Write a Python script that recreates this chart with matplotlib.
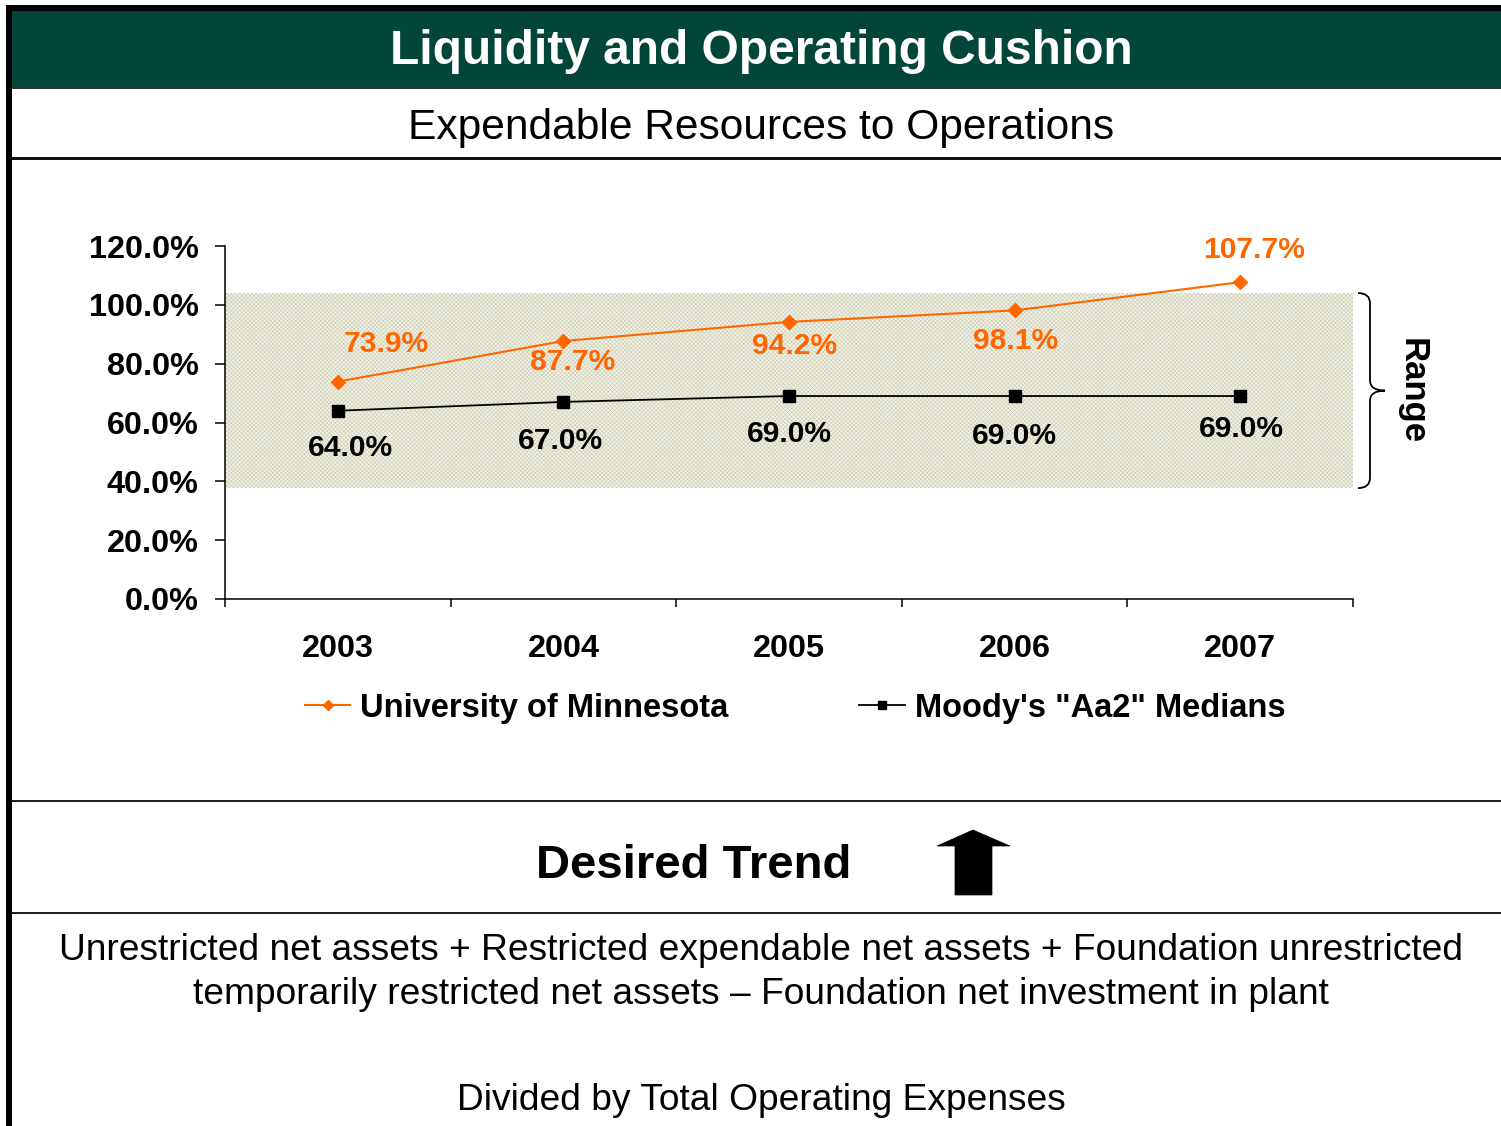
import matplotlib
matplotlib.use("Agg")
import matplotlib.pyplot as plt
from matplotlib.patches import Rectangle, Polygon, PathPatch
from matplotlib.path import Path
from matplotlib.lines import Line2D
import matplotlib.transforms as mtransforms

plt.rcParams['font.family'] = ['Liberation Sans', 'DejaVu Sans']
plt.rcParams['hatch.linewidth'] = 0.45
plt.rcParams['hatch.color'] = '#CDCDB2'

# ---------------- data ----------------
years = ["2003", "2004", "2005", "2006", "2007"]
umn_values = [73.9, 87.7, 94.2, 98.1, 107.7]
moodys_values = [64.0, 67.0, 69.0, 69.0, 69.0]
range_low = 37.7
range_high = 104.0
y_ticks = [0, 20, 40, 60, 80, 100, 120]
series_names = ["University of Minnesota", "Moody's \"Aa2\" Medians"]
title_text = "Liquidity and Operating Cushion"
subtitle_text = "Expendable Resources to Operations"
trend_text = "Desired Trend"
formula_lines = [
    "Unrestricted net assets + Restricted expendable net assets + Foundation unrestricted",
    "temporarily restricted net assets \u2013 Foundation net investment in plant",
]
divisor_text = "Divided by Total Operating Expenses"

# label offsets (points) for annotations
umn_offsets = [(35, 27), (7, -15), (4, -17), (1, -22), (10, 23)]
moodys_offsets = [(9, -27), (-2, -28), (0, -27), (0, -29), (1, -24)]

W, H = 1501, 1126
fig = plt.figure(figsize=(W / 100, H / 100), dpi=100)
fig.patch.set_facecolor('white')

def fx(x):
    return x / W

def fy(y):
    return 1 - y / H

GREEN = '#02463A'
ORANGE = '#FF6600'

# ---------------- frame ----------------
fig.patches.append(Rectangle((fx(12), fy(87)), fx(W - 12), 76 / H,
                             transform=fig.transFigure, facecolor=GREEN,
                             edgecolor='none', zorder=0))
fig.patches.append(Rectangle((fx(6), fy(11)), fx(W - 6), 6 / H,
                             transform=fig.transFigure, facecolor='black',
                             edgecolor='none', zorder=1))
fig.patches.append(Rectangle((fx(6), fy(H)), fx(6), fy(5) - fy(H),
                             transform=fig.transFigure, facecolor='black',
                             edgecolor='none', zorder=1))
for yy, lw, col in [(88, 2.0, '#333333'), (158, 3.0, '#111111'),
                    (801, 2.0, '#222222'), (913, 2.0, '#222222')]:
    fig.lines.append(Line2D([fx(12), 1], [fy(yy), fy(yy)], transform=fig.transFigure,
                            color=col, linewidth=lw * 0.72, zorder=1))

fig.text(fx(761), fy(51), title_text, color='white', fontsize=34.5,
         fontweight='bold', ha='center', va='center')
fig.text(fx(761), fy(128), subtitle_text, color='black', fontsize=30.6,
         ha='center', va='center')
fig.text(fx(694), fy(866), trend_text, color='black', fontsize=34,
         fontweight='bold', ha='center', va='center')
arrow_px = [(973, 830), (1010, 846), (992, 846), (992, 895), (955, 895),
            (955, 846), (937, 846)]
fig.patches.append(Polygon([(fx(px), fy(py)) for px, py in arrow_px], closed=True,
                           transform=fig.transFigure, facecolor='black',
                           edgecolor='black', linewidth=0.5))
fig.text(fx(761), fy(950), formula_lines[0], fontsize=26.7, ha='center', va='center')
fig.text(fx(761), fy(995), formula_lines[1], fontsize=26.7, ha='center', va='center')
fig.text(fx(761), fy(1101), divisor_text, fontsize=26.7, ha='center', va='center')

# ---------------- chart ----------------
ax = fig.add_axes([fx(225), fy(599), fx(1353) - fx(225), fy(246) - fy(599)])
ax.set_facecolor('none')
x = list(range(len(years)))
ax.set_xlim(-0.5, len(years) - 0.5)
ax.set_ylim(0, 120)

ax.axhspan(range_low, range_high, facecolor='#F3F3EA', edgecolor='#CDCDB2',
           hatch='x' * 8, linewidth=0, zorder=0)

ax.plot(x, umn_values, color=ORANGE, linewidth=1.5, marker='D', markersize=7,
        markerfacecolor=ORANGE, markeredgecolor=ORANGE, zorder=3,
        label=series_names[0], clip_on=False)
ax.plot(x, moodys_values, color='black', linewidth=1.3, marker='s', markersize=8,
        markerfacecolor='black', markeredgecolor='black', zorder=3,
        label=series_names[1], clip_on=False)

for xi, v, off in zip(x, umn_values, umn_offsets):
    ax.annotate(f"{v:.1f}%", (xi, v), xytext=off, textcoords='offset points',
                ha='center', va='center', color=ORANGE, fontsize=21.6,
                fontweight='bold', annotation_clip=False)
for xi, v, off in zip(x, moodys_values, moodys_offsets):
    ax.annotate(f"{v:.1f}%", (xi, v), xytext=off, textcoords='offset points',
                ha='center', va='center', color='black', fontsize=21.6,
                fontweight='bold', annotation_clip=False)

for s in ['top', 'right']:
    ax.spines[s].set_visible(False)
for s in ['left', 'bottom']:
    ax.spines[s].set_linewidth(1.1)

ax.set_yticks(y_ticks)
ax.set_yticklabels([f"{t:.1f}%" for t in y_ticks], fontsize=23.3, fontweight='bold')
ax.tick_params(axis='y', direction='out', length=7, width=1.1, pad=12)
ax.set_xticks(x)
ax.set_xticklabels(years, fontsize=23.3, fontweight='bold')
ax.set_xticks([i - 0.5 for i in range(len(years) + 1)], minor=True)
ax.tick_params(axis='x', which='major', length=0, pad=25)
ax.tick_params(axis='x', which='minor', direction='out', length=6, width=1.1)

# brace for range
trans = mtransforms.blended_transform_factory(ax.transAxes, ax.transData)
ax_w = 1128.0
x0 = 1 + 5 / ax_w
xs = 1 + 17 / ax_w
xt = 1 + 32 / ax_w
mid = (range_low + range_high) / 2
r = 3.5
verts = [(x0, range_high), (xs, range_high), (xs, range_high - r),
         (xs, mid + r), (xs, mid), (xt, mid),
         (xs, mid), (xs, mid - r),
         (xs, range_low + r), (xs, range_low), (x0, range_low)]
codes = [Path.MOVETO, Path.CURVE3, Path.CURVE3,
         Path.LINETO, Path.CURVE3, Path.CURVE3,
         Path.CURVE3, Path.CURVE3,
         Path.LINETO, Path.CURVE3, Path.CURVE3]
ax.add_patch(PathPatch(Path(verts, codes), transform=trans, facecolor='none',
                       edgecolor='black', linewidth=1.3, clip_on=False))
ax.text(1 + 59 / ax_w, mid, "Range", transform=trans, rotation=-90,
        fontsize=25, fontweight='bold', ha='center', va='center')

ax.legend(loc='center', bbox_to_anchor=(fx(795), fy(708)),
          bbox_transform=fig.transFigure, ncol=2, frameon=False,
          prop={'size': 23.5, 'weight': 'bold'}, handlelength=1.4,
          handletextpad=0.3, columnspacing=4.0, markerscale=0.8)

fig.savefig("out.png", dpi=100)
